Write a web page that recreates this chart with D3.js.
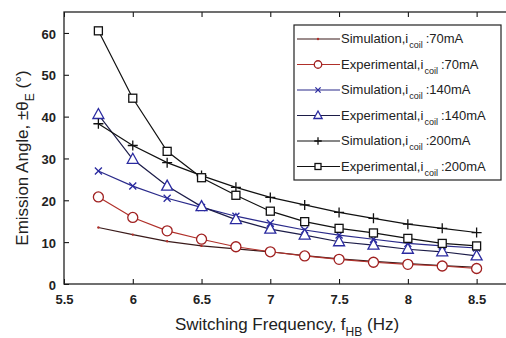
<!DOCTYPE html>
<html>
<head>
<meta charset="utf-8">
<script src="https://cdn.jsdelivr.net/npm/d3@7"></script>
<style>
  body { margin: 0; background: #fff; }
  text { font-family: "Liberation Sans", Arial, sans-serif; }
</style>
</head>
<body>
<div id="chart"></div>
<script>
// switching frequency values (Hz)
var freq = [5.75, 6, 6.25, 6.5, 6.75, 7, 7.25, 7.5, 7.75, 8, 8.25, 8.5];

// emission angle, degrees
var sim70  = [13.5, 11.8, 10.2, 9.1, 8.4, 7.7, 6.8, 6.0, 5.4, 4.9, 4.4, 4.0];
var exp70  = [20.8, 15.9, 12.7, 10.7, 8.9, 7.7, 6.7, 5.9, 5.2, 4.7, 4.3, 3.7];
var sim140 = [27.0, 23.4, 20.5, 18.3, 16.2, 14.5, 12.9, 11.7, 10.7, 9.7, 9.1, 8.6];
var exp140 = [40.5, 29.8, 23.4, 18.5, 15.4, 13.1, 11.7, 10.1, 9.3, 8.3, 7.7, 6.7];
var sim200 = [38.3, 33.1, 29.0, 25.9, 23.1, 20.7, 18.9, 17.1, 15.7, 14.3, 13.3, 12.3];
var exp200 = [60.5, 44.4, 31.7, 25.4, 21.2, 17.4, 14.9, 13.3, 12.2, 10.9, 9.7, 9.1];

var xTicks = [5.5, 6, 6.5, 7, 7.5, 8, 8.5];
var yTicks = [0, 10, 20, 30, 40, 50, 60];

var seriesNames = ["Simulation", "Experimental", "Simulation", "Experimental", "Simulation", "Experimental"];
var currents = ["70mA", "70mA", "140mA", "140mA", "200mA", "200mA"];
var seriesValues = [sim70, exp70, sim140, exp140, sim200, exp200];
var markers = ["dot", "circle", "cross", "triangle", "plus", "square"];
var lineColors = ["#3a1a1a", "#b0302a", "#2a2a8a", "#1c1c48", "#111", "#111"];
var markColors = ["#b0302a", "#a02020", "#2a2aa0", "#2a2aa0", "#111", "#111"];

var width = 506, height = 338;
var margin = {top: 12, right: -5, bottom: 54, left: 64};
var w = width - margin.left - margin.right,
    h = height - margin.top - margin.bottom;

var svg = d3.select("#chart").append("svg")
    .attr("width", width)
    .attr("height", height);

var g = svg.append("g")
    .attr("transform", "translate(" + margin.left + "," + margin.top + ")");

var x = d3.scaleLinear().domain([5.5, 8.75]).range([0, w]);
var y = d3.scaleLinear().domain([0, 65]).range([h, 0]);

// axes, ticks inward
g.append("g")
    .attr("transform", "translate(0," + h + ")")
    .call(d3.axisBottom(x).tickValues(xTicks).tickSizeInner(-5).tickSizeOuter(0).tickPadding(11).tickFormat(d3.format("")))
    .call(function(a) {
        a.select(".domain").remove();
        a.selectAll("text").attr("font-size", 13).attr("font-weight", "bold").attr("fill", "#222");
    });

g.append("g")
    .call(d3.axisLeft(y).tickValues(yTicks).tickSizeInner(-5).tickSizeOuter(0).tickPadding(8))
    .call(function(a) {
        a.select(".domain").remove();
        a.selectAll("text").attr("font-size", 13).attr("font-weight", "bold").attr("fill", "#222").attr("dy", "0.4em");
    });

g.append("g")
    .call(d3.axisTop(x).tickValues(xTicks).tickSizeInner(-5).tickSizeOuter(0).tickFormat(""))
    .call(function(a) { a.select(".domain").remove(); });

g.append("g")
    .attr("transform", "translate(" + w + ",0)")
    .call(d3.axisRight(y).tickValues(yTicks).tickSizeInner(-5).tickSizeOuter(0).tickFormat(""))
    .call(function(a) { a.select(".domain").remove(); });

g.append("rect")
    .attr("width", w).attr("height", h)
    .attr("fill", "none").attr("stroke", "#222").attr("stroke-width", 1.3);

// lines and markers
var line = d3.line()
    .x(function(d, i) { return x(freq[i]); })
    .y(function(d) { return y(d); });

function drawMarker(sel, type, color, s) {
    if (type == "dot") {
        sel.append("circle").attr("r", 1.2).attr("fill", color);
    } else if (type == "circle") {
        sel.append("circle").attr("r", 5 * s).attr("fill", "#fff").attr("stroke", color).attr("stroke-width", 1.3);
    } else if (type == "cross") {
        sel.append("path").attr("d", d3.path ? "M" + (-3.5 * s) + "," + (-3.5 * s) + "L" + (3.5 * s) + "," + (3.5 * s) +
            "M" + (-3.5 * s) + "," + (3.5 * s) + "L" + (3.5 * s) + "," + (-3.5 * s) : "")
            .attr("stroke", color).attr("stroke-width", 1.3);
    } else if (type == "triangle") {
        sel.append("path").attr("d", "M0," + (-6 * s) + "L" + (5.5 * s) + "," + (4 * s) + "L" + (-5.5 * s) + "," + (4 * s) + "Z")
            .attr("fill", "#fff").attr("stroke", color).attr("stroke-width", 1.3);
    } else if (type == "plus") {
        sel.append("path").attr("d", "M" + (-5 * s) + ",0L" + (5 * s) + ",0M0," + (-5 * s) + "L0," + (5 * s))
            .attr("stroke", color).attr("stroke-width", 1.3);
    } else if (type == "square") {
        sel.append("rect").attr("x", -4 * s).attr("y", -4 * s).attr("width", 8 * s).attr("height", 8 * s)
            .attr("fill", "#fff").attr("stroke", color).attr("stroke-width", 1.3);
    }
}

seriesValues.forEach(function(vals, k) {
    g.append("path")
        .datum(vals)
        .attr("d", line)
        .attr("fill", "none")
        .attr("stroke", lineColors[k])
        .attr("stroke-width", 1.2);

    g.selectAll(".m" + k)
        .data(vals)
        .enter().append("g")
        .attr("class", "m" + k)
        .attr("transform", function(d, i) { return "translate(" + x(freq[i]) + "," + y(d) + ")"; })
        .each(function() { drawMarker(d3.select(this), markers[k], markColors[k], 1); });
});

// legend
var legend = svg.append("g").attr("transform", "translate(294,25)");
legend.append("rect")
    .attr("width", 207).attr("height", 155)
    .attr("fill", "#fff").attr("stroke", "#222").attr("stroke-width", 1.2);

seriesNames.forEach(function(name, k) {
    var row = legend.append("g").attr("transform", "translate(0," + (14 + k * 25.5) + ")");
    row.append("line").attr("x1", 3).attr("x2", 46).attr("y1", 0).attr("y2", 0)
        .attr("stroke", lineColors[k]).attr("stroke-width", 1.2);
    var m = row.append("g").attr("transform", "translate(24,0)");
    drawMarker(m, markers[k], markColors[k], 0.75);
    var t = row.append("text").attr("x", 47).attr("y", 4).attr("font-size", 13).attr("fill", "#222");
    t.append("tspan").text(name + ",i");
    t.append("tspan").attr("font-size", 9).attr("dy", 5).attr("dx", 1).text("coil");
    t.append("tspan").attr("dy", -5).attr("dx", 3).text(":" + currents[k]);
});

// axis titles
svg.append("text")
    .attr("transform", "translate(28,158) rotate(-90)")
    .attr("text-anchor", "middle")
    .attr("font-size", 17)
    .attr("fill", "#222")
    .call(function(t) {
        t.append("tspan").text("Emission Angle, \u00b1\u03b8");
        t.append("tspan").attr("font-size", 12).attr("dy", 6).text("E");
        t.append("tspan").attr("dy", -6).text(" (\u00b0)");
    });

svg.append("text")
    .attr("x", 287).attr("y", 330)
    .attr("text-anchor", "middle")
    .attr("font-size", 17)
    .attr("fill", "#222")
    .call(function(t) {
        t.append("tspan").text("Switching Frequency, f");
        t.append("tspan").attr("font-size", 12).attr("dy", 6).text("HB");
        t.append("tspan").attr("dy", -6).text(" (Hz)");
    });
</script>
</body>
</html>
